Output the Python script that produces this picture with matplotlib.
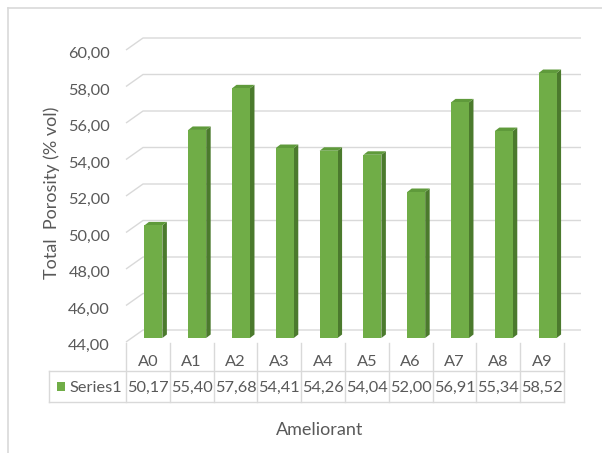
import matplotlib
matplotlib.use("Agg")
import matplotlib.pyplot as plt
from matplotlib.patches import Polygon, Rectangle
from matplotlib.lines import Line2D
from matplotlib.ticker import FuncFormatter
from matplotlib.transforms import blended_transform_factory, ScaledTranslation

# ---- data -------------------------------------------------------------
categories = ["A0", "A1", "A2", "A3", "A4", "A5", "A6", "A7", "A8", "A9"]
series_name = "Series1"
values = [50.17, 55.40, 57.68, 54.41, 54.26, 54.04, 52.00, 56.91, 55.34, 58.52]
y_ticks = [44, 46, 48, 50, 52, 54, 56, 58, 60]
y_label = "Total  Porosity (% vol)"
x_label = "Ameliorant"

# ---- style ------------------------------------------------------------
FONT = "Lato"
TEXT = "#595959"
GRID = "#D9D9D9"
FRONT = "#70AD47"
SIDE = "#4B7A2D"
TOP = "#5F9A3B"

W, H = 602, 453
fig = plt.figure(figsize=(W / 100, H / 100), dpi=100)
fig.patch.set_facecolor("white")

# front plane of the 3-D plot box (pixel layout)
ax = fig.add_axes([126 / W, 111 / H, 438 / W, 292 / H])
ax.set_xlim(-0.5, len(categories) - 0.5)
ax.set_ylim(y_ticks[0], y_ticks[-1])
ax.patch.set_visible(False)
for s in ax.spines.values():
    s.set_visible(False)
ax.set_xticks([])
ax.set_yticks(y_ticks)
ax.yaxis.set_major_formatter(FuncFormatter(lambda v, _: f"{v:.2f}".replace(".", ",")))
ax.tick_params(axis="y", length=0, pad=11.5, labelsize=11.8, labelcolor=TEXT)
for lbl in ax.get_yticklabels():
    lbl.set_fontfamily(FONT)
    lbl.set_transform(lbl.get_transform() + ScaledTranslation(0, -2.5 / 100, fig.dpi_scale_trans))

fig.canvas.draw()
inv = ax.transData.inverted()
origin = ax.transData.transform((0, y_ticks[0]))


def shift(dxp, dyp):
    """Convert a pixel offset into data units of the plot box."""
    x, y = inv.transform((origin[0] + dxp, origin[1] + dyp))
    return x, y - y_ticks[0]


# back wall and side wall gridlines
bx, by = shift(17, 12)
x_lo, x_hi = -0.5, len(categories) - 0.5
for t in y_ticks:
    ax.plot([x_lo, x_lo + bx, x_hi + bx], [t, t + by, t + by],
            color=GRID, lw=1.0, clip_on=False, zorder=1, solid_capstyle="butt")

# 3-D columns
fx, fy = shift(5.5, 4)
dx, dy = shift(4.5, 3.5)
hw = 0.205
base = y_ticks[0]
for i, v in enumerate(values):
    xl, xr = i - hw + fx, i + hw + fx
    b, t = base + fy, v + fy
    front = Polygon([(xl, b), (xr, b), (xr, t), (xl, t)], closed=True,
                    facecolor=FRONT, edgecolor="none", zorder=3, clip_on=False)
    side = Polygon([(xr, b), (xr + dx, b + dy), (xr + dx, t + dy), (xr, t)], closed=True,
                   facecolor=SIDE, edgecolor="none", zorder=3, clip_on=False)
    top = Polygon([(xl, t), (xr, t), (xr + dx, t + dy), (xl + dx, t + dy)], closed=True,
                  facecolor=TOP, edgecolor="none", zorder=3, clip_on=False)
    for p in (side, top, front):
        ax.add_patch(p)

# ---- data table under the plot ----------------------------------------
tx = blended_transform_factory(ax.transData, fig.transFigure)


def fy_(top_px):
    return 1 - top_px / H


table_top, row_sep, table_bot = 343, 371, 402
legend_left = 49
right_px = ax.transData.transform((x_hi, base))[0]

for k in range(len(categories) + 1):
    xb = k - 0.5
    fig.add_artist(Line2D([xb, xb], [fy_(table_top), fy_(table_bot)], transform=tx,
                          color=GRID, lw=1.0))
for yy in (row_sep, table_bot):
    fig.add_artist(Line2D([legend_left / W, right_px / W], [fy_(yy), fy_(yy)],
                          transform=fig.transFigure, color=GRID, lw=1.0))
fig.add_artist(Line2D([legend_left / W, legend_left / W], [fy_(row_sep), fy_(table_bot)],
                      transform=fig.transFigure, color=GRID, lw=1.0))

for i, (c, v) in enumerate(zip(categories, values)):
    fig.text(i, fy_(366.5), c, transform=tx, ha="center", va="baseline",
             fontsize=11.8, color=TEXT, family=FONT)
    fig.text(i, fy_(392), f"{v:.2f}".replace(".", ","), transform=tx, ha="center",
             va="baseline", fontsize=11.8, color=TEXT, family=FONT)

fig.add_artist(Rectangle((57 / W, fy_(391)), 8 / W, 9 / H, transform=fig.transFigure,
                         facecolor=FRONT, edgecolor="none"))
fig.text(69 / W, fy_(392), series_name, ha="left", va="baseline",
         fontsize=11.8, color=TEXT, family=FONT)

# ---- axis titles ------------------------------------------------------
fig.text(52 / W, fy_(193), y_label, rotation=90, ha="center", va="center",
         fontsize=13, color=TEXT, family=FONT)
fig.text(319.5 / W, fy_(435), x_label, ha="center", va="baseline",
         fontsize=13, color=TEXT, family=FONT)

# chart frame
fig.add_artist(Line2D([8 / W, 1], [fy_(8), fy_(8)], transform=fig.transFigure, color=GRID, lw=1.2))
fig.add_artist(Line2D([8 / W, 8 / W], [0, fy_(8)], transform=fig.transFigure, color=GRID, lw=1.2))

fig.savefig("out.png", dpi=100, facecolor="white")
